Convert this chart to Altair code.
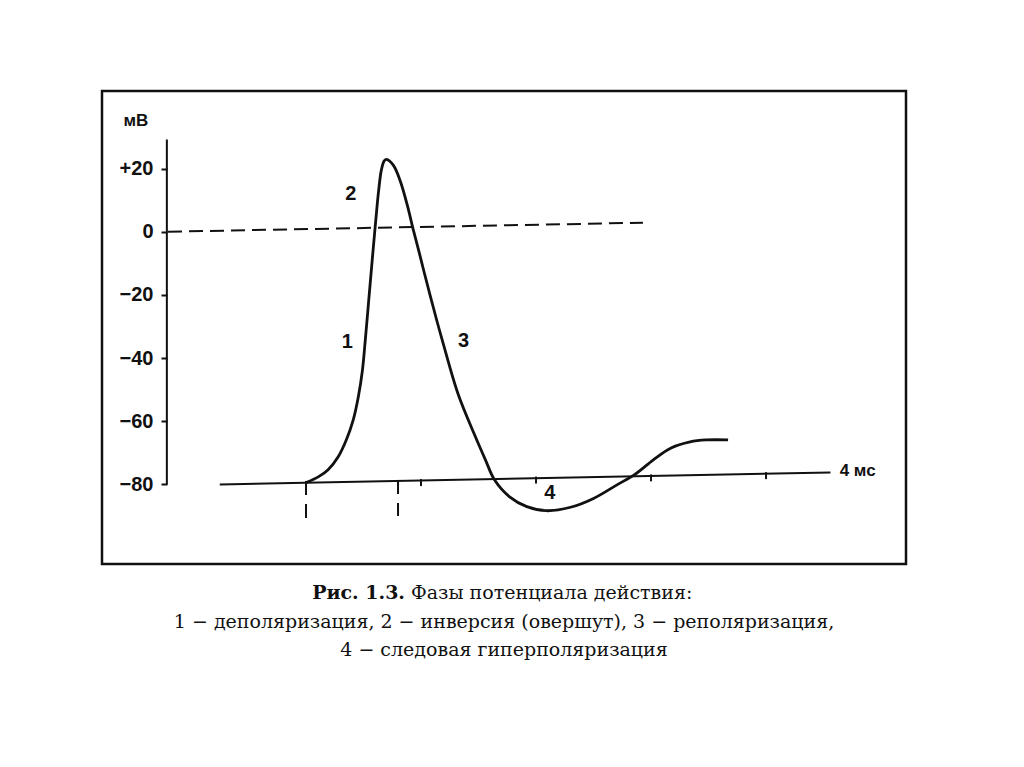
import altair as alt
import pandas as pd

# Action potential trace: time (ms) and membrane potential (mV)
ap_time = [0.0, 0.11, 0.19, 0.28, 0.35, 0.41, 0.455, 0.49, 0.515, 0.545, 0.575, 0.605,
           0.63, 0.655, 0.68, 0.70, 0.76, 0.82, 0.88, 0.93, 0.98, 1.02, 1.14, 1.19, 1.32,
           1.46, 1.56, 1.64, 1.77, 1.92, 2.09, 2.30, 2.50, 2.70, 2.86, 3.02, 3.17,
           3.34, 3.48, 3.67]
ap_mv = [-79.4, -77.5, -75.4, -71.2, -65.9, -59.6, -52.2, -44.0, -34.5, -21.8, -9.2, 3.0,
         12.5, 19.5, 22.4, 22.9, 21.0, 16.0, 8.5, 1.0, -6.0, -11.8, -28.5, -35.0, -51.1,
         -63.8, -72.2, -78.6, -83.9, -87.0, -88.3, -87.2, -84.4, -80.2, -76.8, -72.2, -68.5,
         -66.5, -65.9, -65.9]

# resting-level baseline (time axis) and dashed zero line, as drawn
base_time = [-0.75, 4.56]
base_mv = [-80.0, -76.2]
zero_time = [-1.2, 2.93]
zero_mv = [0.0, 2.85]

# y axis
y_ticks = [-80, -60, -40, -20, 0, 20]
y_axis_time = -1.21
y_axis_range = [-80, 29.2]

# time ticks on the baseline
tick_time = [0, 1, 2, 3, 4]
tick_top = [-78.9, -78.3, -77.5, -76.8, -76.1]
tick_bottom = [-81.1, -80.5, -79.7, -79.0, -78.3]
mark_time = [0.0, 0.8]
mark_top = [-78.9, -78.6]
mark_bottom = [-91.0, -90.0]

# phase numbers
phase_labels = ["1", "2", "3", "4"]
phase_time = [0.36, 0.39, 1.37, 2.12]
phase_mv = [-34.9, 11.8, -34.6, -82.8]

# unit labels
unit_labels = ["мВ", "4 мс"]
unit_time = [-1.48, 4.64]
unit_mv = [35.0, -75.7]
unit_align = ["center", "left"]

# caption
cap_bold = "Рис. 1.3."
cap_line1 = "Фазы потенциала действия:"
cap_line2 = "1 − деполяризация, 2 − инверсия (овершут), 3 − реполяризация,"
cap_line3 = "4 − следовая гиперполяризация"

xscale = alt.Scale(domain=[-1.774, 5.217], nice=False, zero=False)
yscale = alt.Scale(domain=[-105.16, 44.53], nice=False, zero=False)
yaxis = alt.Axis(values=y_ticks, domain=False, grid=False, offset=-65, tickSize=6,
                 tickWidth=2, tickColor="#111", labelPadding=8, labelFont="Liberation Sans",
                 labelFontSize=20, labelFontWeight="bold", labelColor="#111", title=None,
                 labelExpr="datum.value > 0 ? '+' + datum.label : datum.label")

X = lambda: alt.X("t:Q", scale=xscale, axis=None)
Y = lambda: alt.Y("mV:Q", scale=yscale, axis=yaxis)

ap = pd.DataFrame({"t": ap_time, "mV": ap_mv})
base = pd.DataFrame({"t": base_time, "mV": base_mv})
zero = pd.DataFrame({"t": zero_time, "mV": zero_mv})
yline = pd.DataFrame({"t": [y_axis_time], "mV": [y_axis_range[0]], "mV2": [y_axis_range[1]]})
ticks = pd.DataFrame({"t": tick_time, "mV": tick_top, "mV2": tick_bottom})
marks = pd.DataFrame({"t": mark_time, "mV": mark_top, "mV2": mark_bottom})
phases = pd.DataFrame({"label": phase_labels, "t": phase_time, "mV": phase_mv})
units = pd.DataFrame({"label": unit_labels, "t": unit_time, "mV": unit_mv, "align": unit_align})

yaxis_layer = alt.Chart(yline).mark_rule(color="#111", strokeWidth=2).encode(
    x=X(), y=Y(), y2="mV2:Q")
zero_layer = alt.Chart(zero).mark_line(color="#111", strokeWidth=2, strokeDash=[14, 7]).encode(
    x=X(), y=Y())
base_layer = alt.Chart(base).mark_line(color="#111", strokeWidth=2).encode(x=X(), y=Y())
tick_layer = alt.Chart(ticks).mark_rule(color="#111", strokeWidth=2).encode(
    x=X(), y=Y(), y2="mV2:Q")
mark_layer = alt.Chart(marks).mark_rule(color="#111", strokeWidth=2, strokeDash=[14, 9]).encode(
    x=X(), y=Y(), y2="mV2:Q")
ap_layer = alt.Chart(ap).mark_line(color="#111", strokeWidth=2.8, interpolate="catmull-rom").encode(
    x=X(), y=Y())
phase_layer = alt.Chart(phases).mark_text(font="Liberation Sans", fontSize=20, fontWeight="bold",
                                          color="#111", baseline="middle").encode(
    x=X(), y=Y(), text="label:N")
unit_c = alt.Chart(units[units["align"] == "center"]).mark_text(
    font="Liberation Sans", fontSize=17, fontWeight="bold", color="#111", baseline="middle",
    align="center").encode(x=X(), y=Y(), text="label:N")
unit_l = alt.Chart(units[units["align"] == "left"]).mark_text(
    font="Liberation Sans", fontSize=17, fontWeight="bold", color="#111", baseline="middle",
    align="left").encode(x=X(), y=Y(), text="label:N")

cap_df = pd.DataFrame({"a": [0]})
cap_style = dict(font="DejaVu Serif", fontSize=19, color="#111", baseline="middle")
cap1b = alt.Chart(cap_df).mark_text(align="right", fontWeight="bold", text=cap_bold, **cap_style).encode(
    x=alt.value(303), y=alt.value(502))
cap1 = alt.Chart(cap_df).mark_text(align="left", text=cap_line1, **cap_style).encode(
    x=alt.value(309), y=alt.value(502))
cap2 = alt.Chart(cap_df).mark_text(align="center", text=cap_line2, **cap_style).encode(
    x=alt.value(402), y=alt.value(531))
cap3 = alt.Chart(cap_df).mark_text(align="center", text=cap_line3, **cap_style).encode(
    x=alt.value(402), y=alt.value(559))

chart = alt.layer(
    yaxis_layer, zero_layer, base_layer, tick_layer, mark_layer, ap_layer,
    phase_layer, unit_c, unit_l, cap1b, cap1, cap2, cap3
).properties(
    width=804, height=473,
    padding={"left": 94, "top": 83, "right": 20, "bottom": 120},
    autosize=alt.AutoSizeParams(type="none"),
    background="white",
).configure_view(stroke="#111", strokeWidth=2.5)

chart.save("out.html", embed_options={"renderer": "svg", "actions": False})
